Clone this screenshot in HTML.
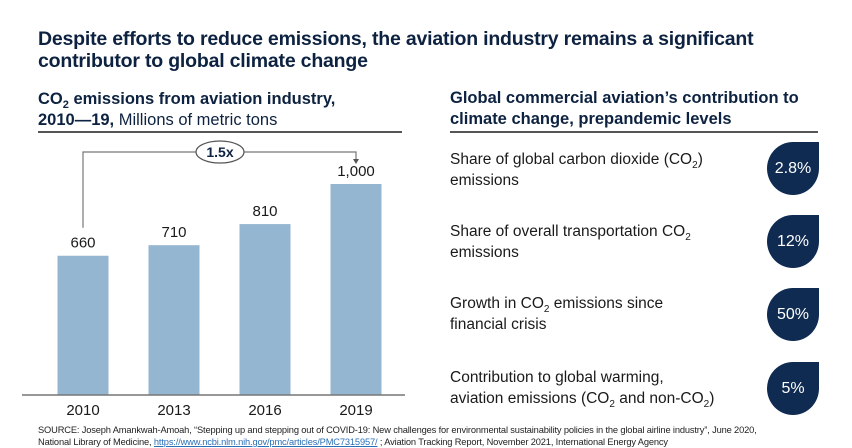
<!DOCTYPE html>
<html><head><meta charset="utf-8"><style>
body{margin:0;width:852px;height:447px;background:#fff;font-family:"Liberation Sans",sans-serif;color:#0d2240;position:relative;overflow:hidden}
.abs{position:absolute}
.title{left:38px;top:28px;font-size:19.5px;font-weight:bold;line-height:22px;letter-spacing:-0.2px}
.h2{font-size:16.5px;font-weight:bold;line-height:21px}
.rule{height:1.5px;background:#555}
.item{left:450px;font-size:15.5px;line-height:21px;color:#1a1a1a}
.badge{left:767px;width:52px;height:53px;background:#0f2b52;border-radius:50% 0 50% 50%;color:#fff;font-size:16px;display:flex;align-items:center;justify-content:center}
.src{left:38px;top:424px;font-size:9.3px;line-height:12px;color:#222;letter-spacing:-0.15px}
.s{font-size:10px;line-height:0;position:relative;top:4px;vertical-align:baseline}
.h2 .s{font-size:11px}
</style></head><body>
<div class="abs title">Despite efforts to reduce emissions, the aviation industry remains a significant<br>contributor to global climate change</div>
<div class="abs h2" style="left:38px;top:89px">CO<span class="s">2</span> emissions from aviation industry,<br>2010—19, <span style="font-weight:normal">Millions of metric tons</span></div>
<div class="abs rule" style="left:38px;top:131px;width:364px"></div>
<div class="abs h2" style="left:450px;top:88px">Global commercial aviation’s contribution to<br>climate change, prepandemic levels</div>
<div class="abs rule" style="left:450px;top:131px;width:368px"></div>
<svg class="abs" style="left:0;top:0" width="430" height="420" id="chart"></svg>
<div class="abs item" style="top:149px">Share of global carbon dioxide (CO<span class="s">2</span>)<br>emissions</div>
<div class="abs badge" style="top:142px">2.8%</div>
<div class="abs item" style="top:221px">Share of overall transportation CO<span class="s">2</span><br>emissions</div>
<div class="abs badge" style="top:215px">12%</div>
<div class="abs item" style="top:293px">Growth in CO<span class="s">2</span> emissions since<br>financial crisis</div>
<div class="abs badge" style="top:288px">50%</div>
<div class="abs item" style="top:367px">Contribution to global warming,<br>aviation emissions (CO<span class="s">2</span> and non-CO<span class="s">2</span>)</div>
<div class="abs badge" style="top:362px">5%</div>
<div class="abs src">SOURCE: Joseph Amankwah-Amoah, “Stepping up and stepping out of COVID-19: New challenges for environmental sustainability policies in the global airline industry”, June 2020,<br>National Library of Medicine, <span style="color:#2a6fb5;text-decoration:underline">https://www.ncbi.nlm.nih.gov/pmc/articles/PMC7315957/</span> ; Aviation Tracking Report, November 2021, International Energy Agency</div>
<script>
const categories=["2010","2013","2016","2019"];
const values=[660,710,810,1000];
const valueLabels=["660","710","810","1,000"];
const multiplierLabel="1.5x";
const svg=document.getElementById('chart');
const NS="http://www.w3.org/2000/svg";
const base=395,k=0.211,x0=83,step=91,bw=51;
const x=i=>x0+i*step, y=v=>base-v*k;
function mk(t,a){const e=document.createElementNS(NS,t);for(const n in a)e.setAttribute(n,a[n]);svg.appendChild(e);return e;}
categories.forEach((c,i)=>{
 const r=mk('rect',{x:x(i)-bw/2,y:y(values[i]),width:bw,height:values[i]*k,fill:'#95b6d0'});
 
 
 const t=mk('text',{x:x(i),y:y(values[i])-8,'text-anchor':'middle','font-size':'15','fill':'#1a1a1a','font-family':'Liberation Sans'});t.textContent=valueLabels[i];
 
 
 const l=mk('text',{x:x(i),y:base+20,'text-anchor':'middle','font-size':'15','fill':'#1a1a1a','font-family':'Liberation Sans'});l.textContent=c;
 
 
});
const ax=mk('line',{x1:22,x2:405,y1:base,y2:base,stroke:'#777','stroke-width':1.5});


const n=values.length-1, topY=152;
const p=mk('path',{d:`M${x(0)} ${y(values[0])-28} V${topY} H${x(n)} V${topY+9}`,fill:'none',stroke:'#777','stroke-width':1.2});


const ar=mk('path',{d:`M${x(n)-3} ${topY+7} L${x(n)+3} ${topY+7} L${x(n)} ${topY+12}Z`,fill:'#555'});


const el=mk('ellipse',{cx:220,cy:topY,rx:24,ry:11,fill:'#fff',stroke:'#555','stroke-width':1.2});


const mt=mk('text',{x:220,y:topY+5,'text-anchor':'middle','font-size':'14','font-weight':'bold','fill':'#0d2240','font-family':'Liberation Sans'});mt.textContent=multiplierLabel;


</script>
</body></html>
